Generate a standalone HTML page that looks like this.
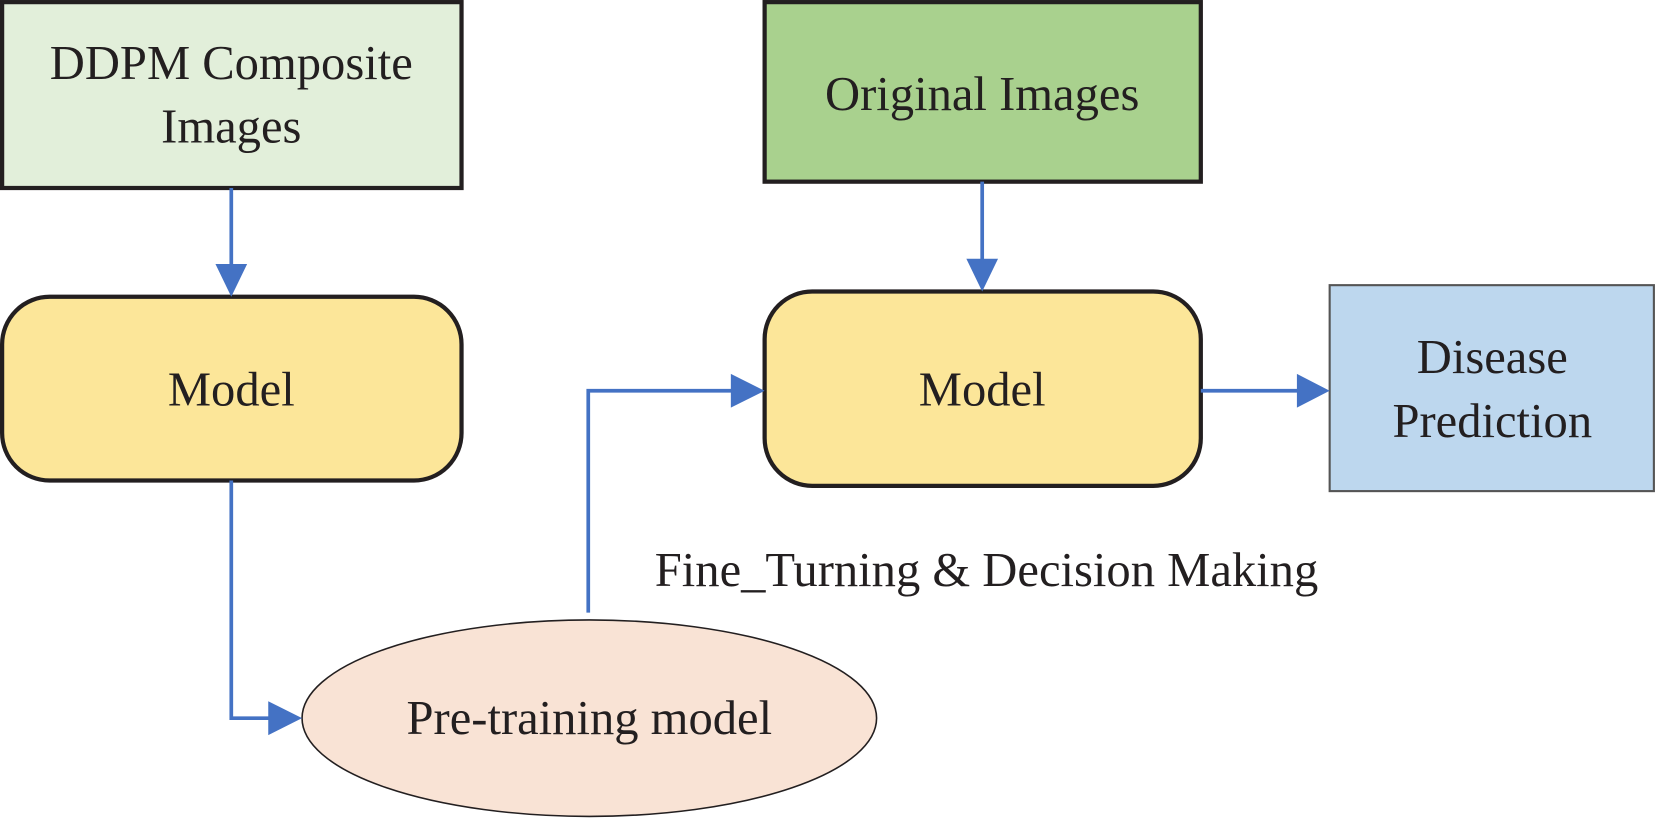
<!DOCTYPE html>
<html><head><meta charset="utf-8"><style>html,body{margin:0;padding:0;background:#fff}svg{display:block}</style></head>
<body>
<svg width="1656" height="820" viewBox="0 0 1568 776.4" xmlns="http://www.w3.org/2000/svg" font-family="Liberation Serif, serif" font-size="46" fill="#231f20">
<rect x="2" y="2" width="435" height="176" fill="#e2efda" stroke="#231f20" stroke-width="4"/>
<text x="219" y="75" text-anchor="middle">DDPM Composite</text>
<text x="219" y="135" text-anchor="middle">Images</text>
<rect x="724" y="2" width="413" height="170" fill="#a9d18e" stroke="#231f20" stroke-width="4"/>
<text x="930" y="104" text-anchor="middle">Original Images</text>
<rect x="2" y="281" width="435" height="174" rx="45" fill="#fce699" stroke="#231f20" stroke-width="4"/>
<text x="219" y="384" text-anchor="middle">Model</text>
<rect x="724" y="276" width="413" height="184" rx="45" fill="#fce699" stroke="#231f20" stroke-width="4"/>
<text x="930" y="384" text-anchor="middle">Model</text>
<rect x="1259" y="270" width="307" height="195" fill="#bdd7ee" stroke="#555" stroke-width="2"/>
<text x="1413" y="353" text-anchor="middle">Disease</text>
<text x="1413" y="414" text-anchor="middle">Prediction</text>
<ellipse cx="558" cy="680" rx="272" ry="93" fill="#f9e3d5" stroke="#231f20" stroke-width="1.5"/>
<text x="558" y="695" text-anchor="middle">Pre-training model</text>
<text x="620" y="555">Fine_Turning &amp; Decision Making</text>
<g stroke="#4472c4" stroke-width="3.5" fill="none">
<line x1="219" y1="178" x2="219" y2="252"/>
<polyline points="219,455 219,680 258,680"/>
<polyline points="557,580 557,370 694,370"/>
<line x1="930" y1="172" x2="930" y2="247"/>
<line x1="1137" y1="370" x2="1230" y2="370"/>
</g>
<g fill="#4472c4">
<polygon points="204,250 234,250 219,281"/>
<polygon points="254,664 254,696 286,680"/>
<polygon points="692,354 692,386 724,370"/>
<polygon points="915,245 945,245 930,276"/>
<polygon points="1228,354 1228,386 1259,370"/>
</g>
</svg>
</body></html>
